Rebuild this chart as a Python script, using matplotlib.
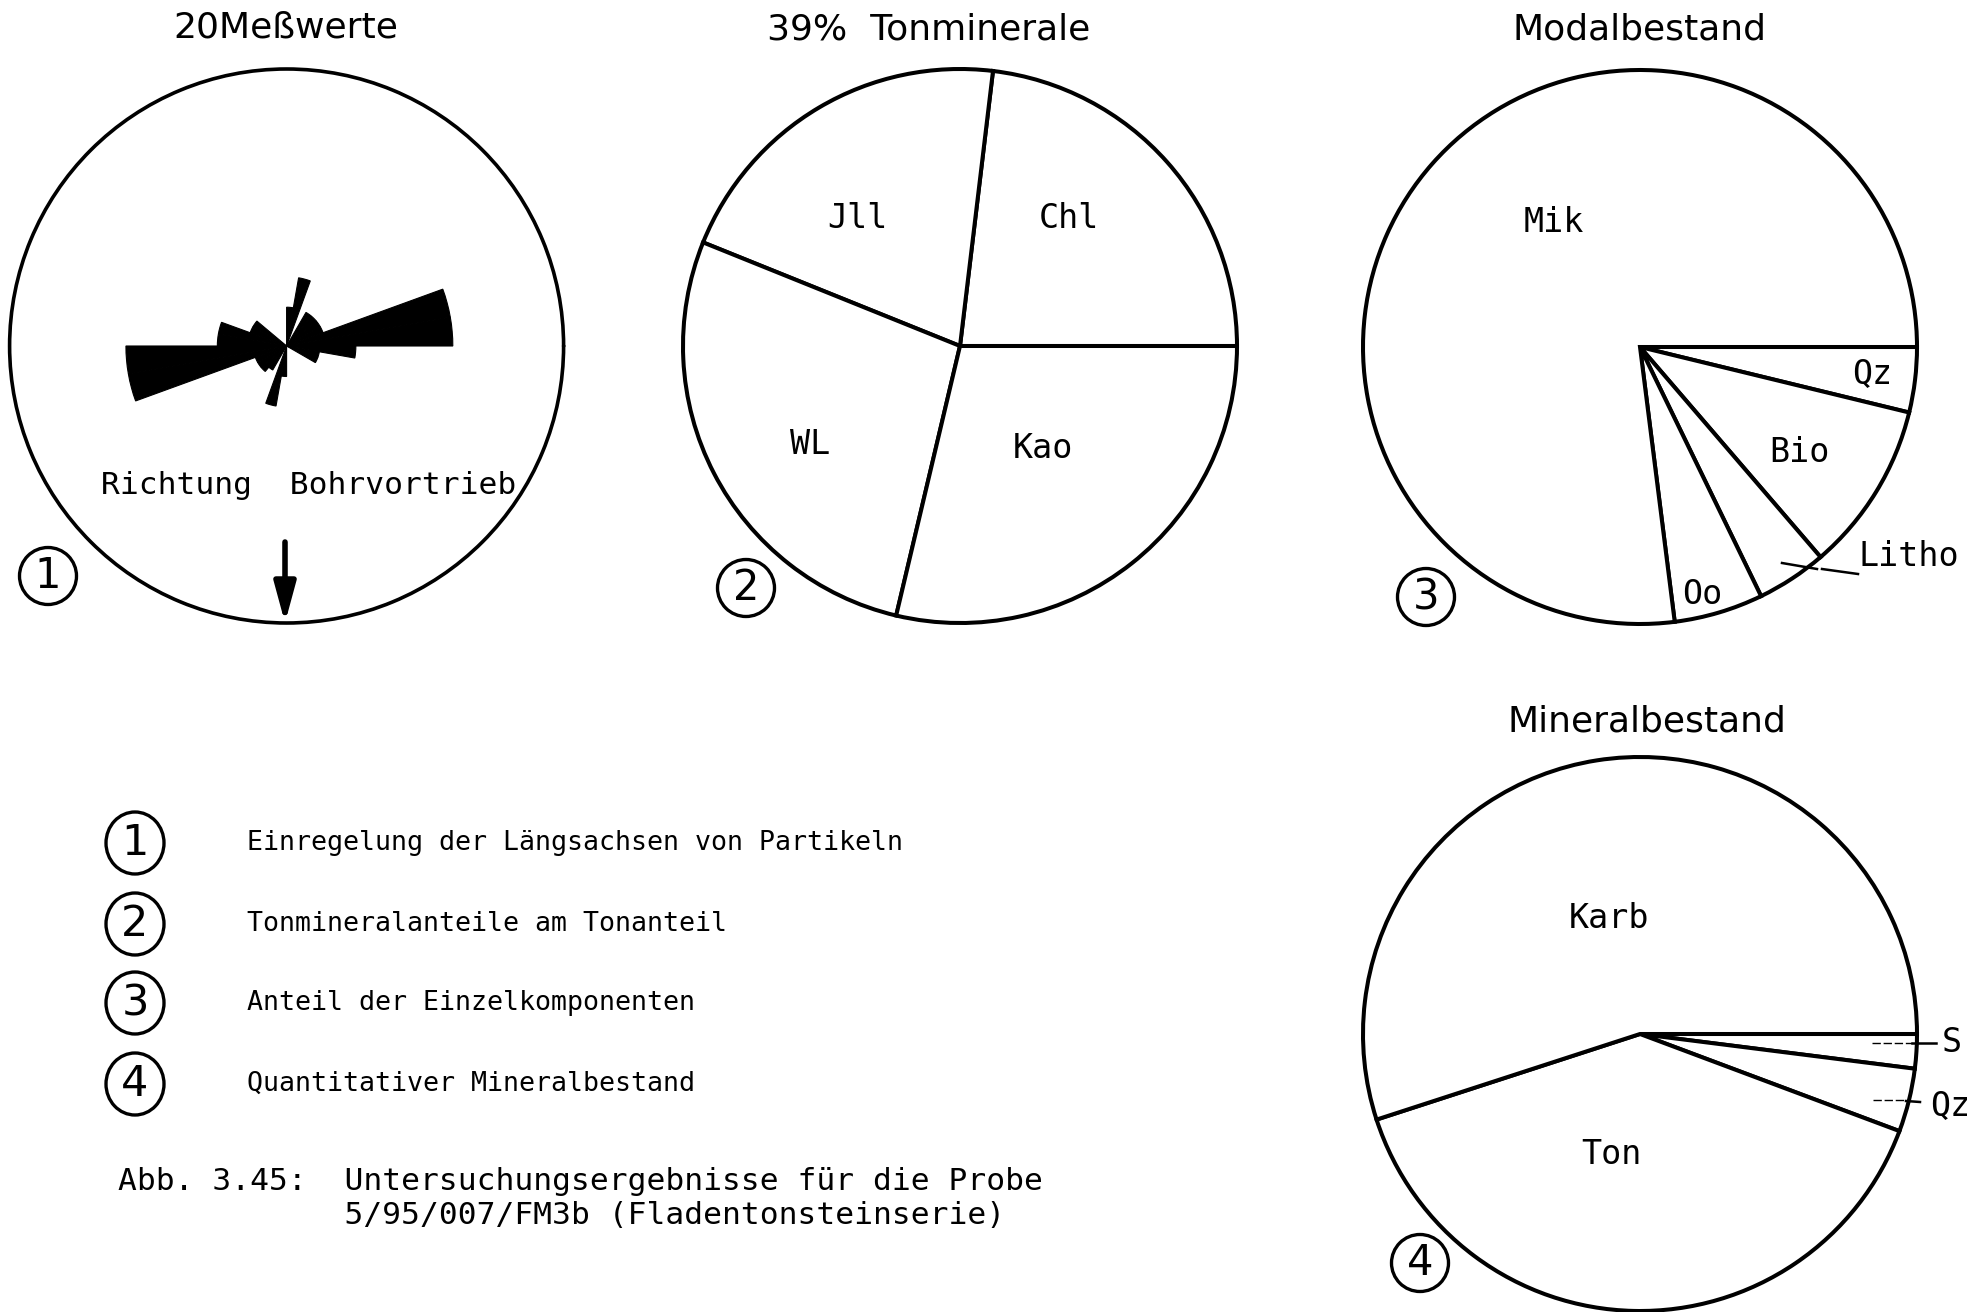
import matplotlib
matplotlib.use("Agg")
import matplotlib.pyplot as plt
import numpy as np
from matplotlib.patches import Ellipse

# ---------------- data ----------------
rose_title = "20Meßwerte"
rose_bin_start_deg = list(range(0, 360, 10))          # 10° classes, counter-clockwise from east
rose_lengths = [0.60, 0.60, 0.14, 0.14, 0.14, 0.14, 0.00, 0.25, 0.14, 0.00,
                0.00, 0.00, 0.00, 0.00, 0.14, 0.14, 0.25, 0.25, 0.58, 0.58,
                0.12, 0.12, 0.12, 0.10, 0.00, 0.22, 0.11, 0.00, 0.00, 0.00,
                0.00, 0.00, 0.00, 0.12, 0.12, 0.25]

ton_title = "39%  Tonminerale"
ton_labels = ["Chl", "Jll", "WL", "Kao"]
ton_values = [23.1, 20.8, 27.4, 28.7]

modal_title = "Modalbestand"
modal_labels = ["Qz", "Bio", "Litho", "Oo", "Mik"]
modal_values = [3.8, 9.9, 4.1, 5.2, 77.0]

mineral_title = "Mineralbestand"
mineral_labels = ["S", "Qz", "Ton", "Karb"]
mineral_values = [2.0, 3.7, 39.3, 55.0]

legend_numbers = ["1", "2", "3", "4"]
legend_texts = ["Einregelung der Längsachsen von Partikeln",
                "Tonmineralanteile am Tonanteil",
                "Anteil der Einzelkomponenten",
                "Quantitativer Mineralbestand"]
caption_lines = ["Abb. 3.45:  Untersuchungsergebnisse für die Probe",
                 "            5/95/007/FM3b (Fladentonsteinserie)"]

# ---------------- layout (pixel coordinates, y from top) ----------------
W, H = 1984, 1312
R = 277
rose_c = (286.6, 346)
pie2_c = (960, 346)
pie3_c = (1640, 347)
pie4_c = (1640, 1034)
LW = 2.9

TITLE_FONT = dict(family="DejaVu Sans", fontsize=26, color="black")
LAB_FONT = dict(family="DejaVu Sans Mono", fontsize=24, color="black")

fig = plt.figure(figsize=(W / 100, H / 100), dpi=100)
fig.patch.set_facecolor("white")
ax = fig.add_axes([0, 0, 1, 1])


def Y(y):
    return H - y


# ---------- rose diagram (polar axes) ----------
pax = fig.add_axes([(rose_c[0] - R) / W, (H - rose_c[1] - R) / H, 2 * R / W, 2 * R / H],
                   projection="polar")
pax.patch.set_alpha(0)
pax.bar(np.deg2rad(rose_bin_start_deg), rose_lengths, width=np.deg2rad(10),
        bottom=0, align="edge", color="black", edgecolor="black", linewidth=0.8)
pax.set_ylim(0, 1)
pax.set_xticks([])
pax.set_yticks([])
pax.grid(False)
pax.spines["polar"].set_linewidth(2.6)
pax.spines["polar"].set_capstyle("round")
pax.spines["polar"].set_joinstyle("round")

# ---------- pies ----------
wp = dict(facecolor="white", edgecolor="black", linewidth=LW)
ax.pie(ton_values, center=(pie2_c[0], Y(pie2_c[1])), radius=R, startangle=0,
       counterclock=True, wedgeprops=wp, frame=True)
ax.pie(modal_values, center=(pie3_c[0], Y(pie3_c[1])), radius=R, startangle=0,
       counterclock=False, wedgeprops=wp, frame=True)
ax.pie(mineral_values, center=(pie4_c[0], Y(pie4_c[1])), radius=R, startangle=0,
       counterclock=False, wedgeprops=wp, frame=True)

ax.set_xlim(0, W)
ax.set_ylim(0, H)
ax.set_aspect("auto")
ax.axis("off")

# ---------- titles ----------
ax.text(286, Y(28), rose_title, ha="center", va="center", **TITLE_FONT)
ax.text(929, Y(30), ton_title, ha="center", va="center", **TITLE_FONT)
ax.text(1640, Y(29), modal_title, ha="center", va="center", **TITLE_FONT)
ax.text(1647, Y(721), mineral_title, ha="center", va="center", **TITLE_FONT)

# ---------- segment labels ----------
ton_pos = {"Jll": (857, 218), "Chl": (1069, 218), "WL": (810, 445), "Kao": (1043, 448)}
for lab in ton_labels:
    x, y = ton_pos[lab]
    ax.text(x, Y(y), lab, ha="center", va="center", **LAB_FONT)

modal_pos = {"Mik": (1554, 223), "Qz": (1872, 375), "Bio": (1799, 453), "Oo": (1702, 595)}
for lab in modal_labels:
    if lab in modal_pos:
        x, y = modal_pos[lab]
        ax.text(x, Y(y), lab, ha="center", va="center", **LAB_FONT)
ax.text(1858, Y(557), "Litho", ha="left", va="center", **LAB_FONT)
ax.plot([1782, 1817], [Y(563), Y(569)], color="black", lw=1.8)
ax.plot([1822, 1858], [Y(569), Y(574)], color="black", lw=1.8)

mineral_pos = {"Karb": (1609, 919), "Ton": (1611, 1155)}
for lab in mineral_labels:
    if lab in mineral_pos:
        x, y = mineral_pos[lab]
        ax.text(x, Y(y), lab, ha="center", va="center", **LAB_FONT)
ax.text(1942, Y(1043), "S", ha="left", va="center", **LAB_FONT)
ax.text(1930, Y(1106), "Qz", ha="left", va="center", **LAB_FONT)
ax.plot([1872, 1912], [Y(1043), Y(1043)], color="black", lw=1.0, ls=(0, (6, 2)))
ax.plot([1912, 1936], [Y(1043), Y(1043)], color="black", lw=1.8)
ax.plot([1873, 1906], [Y(1100), Y(1100)], color="black", lw=1.0, ls=(0, (6, 2)))
ax.plot([1906, 1920], [Y(1101), Y(1102)], color="black", lw=1.8)

# ---------- rose annotations ----------
ax.text(101, Y(485), "Richtung  Bohrvortrieb", ha="left", va="center",
        family="DejaVu Sans Mono", fontsize=22.5, color="black")
ax.annotate("", xy=(285, Y(623)), xytext=(285, Y(542)),
            arrowprops=dict(arrowstyle="-|>,head_length=2.4,head_width=0.65",
                            lw=4, color="black", shrinkA=0, shrinkB=0,
                            mutation_scale=10))


# ---------- circled numbers ----------
def circled(x, y, s, w=57, h=57, fs=30):
    ax.add_patch(Ellipse((x, Y(y)), w, h, fill=False, edgecolor="black", lw=2.4))
    ax.text(x, Y(y), s, ha="center", va="center", family="DejaVu Sans",
            fontsize=fs, color="black")


circled(48, 576, "1")
circled(746, 588, "2")
circled(1426, 597, "3")
circled(1420, 1263, "4")

legend_y = [843, 924, 1003, 1084]
for num, txt, y in zip(legend_numbers, legend_texts, legend_y):
    circled(135, y, num, w=58, h=62, fs=31)
    ax.text(247, Y(y), txt, ha="left", va="center", family="DejaVu Sans Mono",
            fontsize=19.2, color="black")

# ---------- caption ----------
ax.text(118, Y(1181), caption_lines[0], ha="left", va="center",
        family="DejaVu Sans Mono", fontsize=22.5, color="black")
ax.text(118, Y(1215), caption_lines[1], ha="left", va="center",
        family="DejaVu Sans Mono", fontsize=22.5, color="black")

fig.savefig("out.png", dpi=100, facecolor="white")
